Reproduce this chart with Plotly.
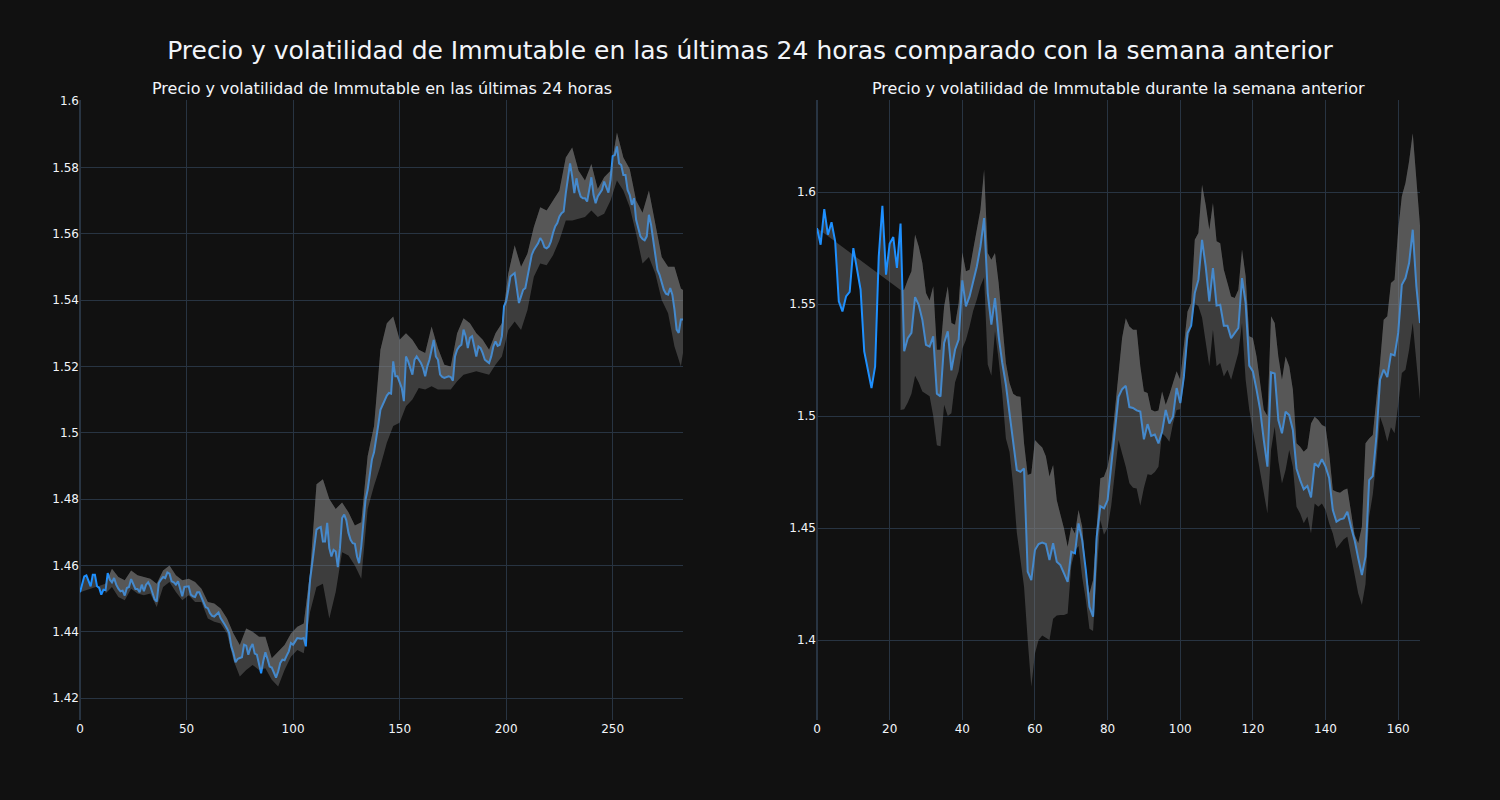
import plotly.graph_objects as go
from plotly.subplots import make_subplots

# ultimas 24 horas (5 min)
price_24h = [
    1.4519, 1.4540, 1.4567, 1.4570, 1.4555, 1.4537, 1.4572, 1.4572, 1.4537, 1.4532,
    1.4512, 1.4527, 1.4525, 1.4577, 1.4557, 1.4549, 1.4562, 1.4542, 1.4530, 1.4522,
    1.4524, 1.4509, 1.4532, 1.4535, 1.4559, 1.4545, 1.4529, 1.4529, 1.4519, 1.4542,
    1.4522, 1.4542, 1.4549, 1.4537, 1.4515, 1.4498, 1.4491, 1.4547, 1.4557, 1.4565,
    1.4562, 1.4579, 1.4575, 1.4552, 1.4549, 1.4542, 1.4552, 1.4532, 1.4507, 1.4535,
    1.4536, 1.4537, 1.4512, 1.4507, 1.4505, 1.4519, 1.4519, 1.4502, 1.4488, 1.4474,
    1.4471, 1.4456, 1.4448, 1.4446, 1.4452, 1.4458, 1.4441, 1.4432, 1.4421, 1.4410,
    1.4396, 1.4356, 1.4336, 1.4308, 1.4318, 1.4321, 1.4323, 1.4361, 1.4358, 1.4331,
    1.4351, 1.4363, 1.4334, 1.4331, 1.4306, 1.4275, 1.4311, 1.4338, 1.4318, 1.4295,
    1.4292, 1.4277, 1.4262, 1.4280, 1.4306, 1.4316, 1.4314, 1.4328, 1.4341, 1.4366,
    1.4361, 1.4371, 1.4381, 1.4380, 1.4379, 1.4381, 1.4356, 1.4476, 1.4557, 1.4607,
    1.4667, 1.4708, 1.4713, 1.4716, 1.4672, 1.4672, 1.4728, 1.4652, 1.4627, 1.4647,
    1.4642, 1.4595, 1.4652, 1.4743, 1.4753, 1.4736, 1.4698, 1.4677, 1.4667, 1.4665,
    1.4627, 1.4607, 1.4657, 1.4738, 1.4798, 1.4828, 1.4878, 1.4919, 1.4941, 1.4979,
    1.5024, 1.5069, 1.5085, 1.5095, 1.5112, 1.5120, 1.5118, 1.5215, 1.5170, 1.5170,
    1.5150, 1.5135, 1.5095, 1.5230, 1.5215, 1.5195, 1.5175, 1.5220, 1.5230, 1.5220,
    1.5210, 1.5195, 1.5170, 1.5200, 1.5220, 1.5250, 1.5280, 1.5230, 1.5220, 1.5175,
    1.5168, 1.5165, 1.5167, 1.5170, 1.5168, 1.5157, 1.5230, 1.5250, 1.5260, 1.5265,
    1.5311, 1.5291, 1.5255, 1.5286, 1.5291, 1.5260, 1.5230, 1.5260, 1.5255, 1.5240,
    1.5220, 1.5215, 1.5210, 1.5230, 1.5260, 1.5275, 1.5262, 1.5265, 1.5291, 1.5381,
    1.5396, 1.5431, 1.5471, 1.5476, 1.5481, 1.5436, 1.5391, 1.5411, 1.5431, 1.5436,
    1.5471, 1.5511, 1.5536, 1.5551, 1.5561, 1.5571, 1.5587, 1.5577, 1.5559, 1.5556,
    1.5561, 1.5577, 1.5602, 1.5622, 1.5632, 1.5652, 1.5662, 1.5667, 1.5722, 1.5767,
    1.5812, 1.5772, 1.5722, 1.5767, 1.5732, 1.5712, 1.5707, 1.5707, 1.5697, 1.5732,
    1.5770, 1.5717, 1.5692, 1.5712, 1.5722, 1.5732, 1.5757, 1.5737, 1.5724, 1.5762,
    1.5834, 1.5837, 1.5863, 1.5812, 1.5807, 1.5777, 1.5777, 1.5732, 1.5717, 1.5687,
    1.5707, 1.5642, 1.5612, 1.5592, 1.5584, 1.5580, 1.5592, 1.5657, 1.5627, 1.5582,
    1.5521, 1.5491, 1.5476, 1.5456, 1.5431, 1.5419, 1.5416, 1.5436, 1.5416, 1.5371,
    1.5311, 1.5301, 1.5341, 1.5341,
]

band_x_24h = [
    12, 15, 18, 21, 24, 27, 30, 33, 36, 39, 42, 45, 48, 51, 54, 57, 60, 63, 66, 69,
    72, 75, 78, 81, 84, 87, 90, 93, 96, 99, 102, 105, 108, 111, 114, 117, 120, 123,
    126, 129, 132, 135, 138, 141, 144, 147, 150, 153, 156, 159, 162, 165, 168, 171,
    174, 177, 180, 183, 186, 189, 192, 195, 198, 201, 204, 207, 210, 213, 216, 219,
    222, 225, 228, 231, 234, 237, 240, 243, 246, 249, 252, 255, 258, 261, 264, 267,
    270, 273, 276, 279, 282, 283,
]
upper_24h = [
    1.4545, 1.4590, 1.4565, 1.4555, 1.4585, 1.4570, 1.4565, 1.4560, 1.4545, 1.4585,
    1.4600, 1.4570, 1.4555, 1.4560, 1.4550, 1.4530, 1.4490, 1.4485, 1.4470, 1.4440,
    1.4395, 1.4360, 1.4410, 1.4400, 1.4385, 1.4385, 1.4320, 1.4340, 1.4360, 1.4395,
    1.4415, 1.4425, 1.4580, 1.4845, 1.4860, 1.4800, 1.4770, 1.4790, 1.4760, 1.4720,
    1.4730, 1.4930, 1.5020, 1.5250, 1.5330, 1.5350, 1.5280, 1.5300, 1.5280, 1.5250,
    1.5240, 1.5320, 1.5255, 1.5205, 1.5200, 1.5300, 1.5345, 1.5330, 1.5300, 1.5280,
    1.5250, 1.5300, 1.5330, 1.5480, 1.5565, 1.5500, 1.5540, 1.5620, 1.5680, 1.5670,
    1.5700, 1.5730, 1.5830, 1.5860, 1.5790, 1.5760, 1.5810, 1.5735, 1.5770, 1.5790,
    1.5905, 1.5830, 1.5795, 1.5700, 1.5663, 1.5730, 1.5630, 1.5530, 1.5500, 1.5500,
    1.5435, 1.5430,
]
lower_24h = [
    1.4515, 1.4535, 1.4505, 1.4495, 1.4530, 1.4515, 1.4510, 1.4515, 1.4475, 1.4535,
    1.4550, 1.4520, 1.4495, 1.4510, 1.4490, 1.4490, 1.4440, 1.4430, 1.4425, 1.4395,
    1.4315, 1.4265, 1.4285, 1.4300, 1.4285, 1.4290, 1.4255, 1.4235, 1.4285, 1.4325,
    1.4345, 1.4335, 1.4460, 1.4535, 1.4545, 1.4440, 1.4520, 1.4640, 1.4630, 1.4600,
    1.4560, 1.4770, 1.4840, 1.4900, 1.4970, 1.5020, 1.5030, 1.5080, 1.5100, 1.5135,
    1.5130, 1.5140, 1.5130, 1.5130, 1.5130, 1.5155, 1.5175, 1.5180, 1.5185, 1.5180,
    1.5175, 1.5205, 1.5230, 1.5310, 1.5335, 1.5310, 1.5370, 1.5470, 1.5510, 1.5505,
    1.5535, 1.5580, 1.5640, 1.5640, 1.5645, 1.5650, 1.5670, 1.5650, 1.5660, 1.5700,
    1.5760, 1.5730, 1.5680, 1.5600, 1.5510, 1.5530, 1.5480, 1.5400, 1.5360, 1.5260,
    1.5200, 1.5240,
]

# semana anterior (horas)
price_7d = [
    1.5839, 1.5765, 1.5924, 1.5810, 1.5865, 1.5780, 1.5512, 1.5467, 1.5534, 1.5554,
    1.5750, 1.5653, 1.5564, 1.5289, 1.5207, 1.5125, 1.5222, 1.5713, 1.5939, 1.5631,
    1.5769, 1.5799, 1.5661, 1.5859, 1.5289, 1.5348, 1.5371, 1.5531, 1.5497, 1.5430,
    1.5318, 1.5310, 1.5356, 1.5100, 1.5088, 1.5326, 1.5378, 1.5204, 1.5296, 1.5341,
    1.5606, 1.5490, 1.5534, 1.5601, 1.5668, 1.5757, 1.5884, 1.5549, 1.5408, 1.5527,
    1.5356, 1.5237, 1.5140, 1.5012, 1.4893, 1.4759, 1.4751, 1.4766, 1.4305, 1.4268,
    1.4402, 1.4429, 1.4435, 1.4429, 1.4357, 1.4432, 1.4350, 1.4335, 1.4298, 1.4260,
    1.4394, 1.4387, 1.4521, 1.4446, 1.4312, 1.4149, 1.4104, 1.4461, 1.4598, 1.4588,
    1.4625, 1.4774, 1.4938, 1.5086, 1.5120, 1.5135, 1.5040, 1.5036, 1.5025, 1.5020,
    1.4896, 1.4964, 1.4911, 1.4917, 1.4878, 1.4930, 1.5027, 1.4967, 1.4997, 1.5125,
    1.5058, 1.5177, 1.5371, 1.5403, 1.5549, 1.5609, 1.5787, 1.5668, 1.5512, 1.5660,
    1.5493, 1.5497, 1.5403, 1.5403, 1.5348, 1.5371, 1.5393, 1.5616, 1.5504, 1.5225,
    1.5199, 1.5118, 1.5028, 1.4893, 1.4774, 1.5195, 1.5190, 1.4982, 1.4923, 1.5019,
    1.5004, 1.4938, 1.4766, 1.4714, 1.4673, 1.4688, 1.4637, 1.4789, 1.4774, 1.4807,
    1.4774, 1.4722, 1.4580, 1.4528, 1.4539, 1.4543, 1.4573, 1.4506, 1.4446, 1.4365,
    1.4290, 1.4372, 1.4714, 1.4732, 1.4908, 1.5162, 1.5207, 1.5174, 1.5277, 1.5271,
    1.5371, 1.5586, 1.5616, 1.5683, 1.5832, 1.5579, 1.5415,
]

band_start_7d = 23
upper_7d = [
    1.5563, 1.5564, 1.5609, 1.5646, 1.5810, 1.5757, 1.5683, 1.5549, 1.5516, 1.5579,
    1.5296, 1.5296, 1.5490, 1.5579, 1.5415, 1.5408, 1.5504, 1.5731, 1.5646, 1.5653,
    1.5743, 1.5832, 1.5921, 1.6100, 1.5728, 1.5698, 1.5728, 1.5594, 1.5415, 1.5237,
    1.5147, 1.5100, 1.5088, 1.5086, 1.4878, 1.4737, 1.4744, 1.4893, 1.4875, 1.4860,
    1.4820, 1.4730, 1.4781, 1.4625, 1.4560, 1.4498, 1.4417, 1.4506, 1.4476, 1.4580,
    1.4506, 1.4312, 1.4208, 1.4268, 1.4506, 1.4722, 1.4729, 1.4774, 1.4863, 1.5027,
    1.5160, 1.5350, 1.5437, 1.5400, 1.5385, 1.5385, 1.5222, 1.5110, 1.5103, 1.5028,
    1.5020, 1.5025, 1.5110, 1.5050, 1.5095, 1.5150, 1.5200, 1.5162, 1.5326, 1.5467,
    1.5504, 1.5787, 1.5817, 1.6033, 1.5943, 1.5832, 1.5951, 1.5780, 1.5772, 1.5653,
    1.5594, 1.5534, 1.5527, 1.5564, 1.5743, 1.5624, 1.5356, 1.5348, 1.5266, 1.5147,
    1.5028, 1.5000, 1.5445, 1.5415, 1.5266, 1.5162, 1.5266, 1.5222, 1.5118, 1.4878,
    1.4863, 1.4841, 1.4856, 1.4967, 1.4997, 1.4982, 1.4960, 1.4952, 1.4833, 1.4670,
    1.4662, 1.4658, 1.4670, 1.4677, 1.4580, 1.4469, 1.4432, 1.4506, 1.4878, 1.4900,
    1.4915, 1.5071, 1.5237, 1.5430, 1.5445, 1.5594, 1.5609, 1.5832, 1.5981, 1.6040,
    1.6137, 1.6263, 1.6050, 1.5850,
]
lower_7d = [
    1.5027, 1.5030, 1.5060, 1.5100, 1.5180, 1.5150, 1.5110, 1.5100, 1.5088, 1.5000,
    1.4870, 1.4865, 1.5050, 1.5000, 1.5012, 1.5150, 1.5200, 1.5300, 1.5340, 1.5400,
    1.5470, 1.5520, 1.5580, 1.5620, 1.5230, 1.5180, 1.5380, 1.5250, 1.5100, 1.4900,
    1.4840, 1.4690, 1.4480, 1.4360, 1.4238, 1.4000, 1.3792, 1.3940, 1.4000, 1.4020,
    1.4010, 1.4000, 1.4095, 1.4110, 1.4112, 1.4112, 1.4119, 1.4330, 1.4400, 1.4420,
    1.4280, 1.4180, 1.4050, 1.4040, 1.4300, 1.4536, 1.4470, 1.4500, 1.4600, 1.4760,
    1.4893, 1.4833, 1.4774, 1.4700, 1.4680, 1.4677, 1.4600, 1.4680, 1.4740, 1.4737,
    1.4750, 1.4774, 1.4923, 1.4908, 1.4885, 1.4967, 1.5027, 1.5030, 1.5150, 1.5330,
    1.5400, 1.5504, 1.5490, 1.5440, 1.5326, 1.5222, 1.5385, 1.5222, 1.5237, 1.5177,
    1.5207, 1.5162, 1.5222, 1.5281, 1.5415, 1.5162, 1.5028, 1.4938, 1.4833, 1.4744,
    1.4655, 1.4565, 1.4850, 1.4952, 1.4800, 1.4699, 1.4759, 1.4848, 1.4774, 1.4595,
    1.4565, 1.4521, 1.4551, 1.4476, 1.4610, 1.4595, 1.4610, 1.4580, 1.4520, 1.4476,
    1.4409, 1.4432, 1.4450, 1.4461, 1.4372, 1.4283, 1.4208, 1.4156, 1.4250, 1.4550,
    1.4650, 1.4800, 1.4997, 1.4950, 1.4885, 1.4950, 1.4923, 1.5050, 1.5192, 1.5207,
    1.5296, 1.5415, 1.5250, 1.5070,
]

titles = ("Precio y volatilidad de Immutable en las últimas 24 horas",
          "Precio y volatilidad de Immutable durante la semana anterior")

fig = make_subplots(rows=1, cols=2, subplot_titles=titles)

band_fill = "rgba(128,128,128,0.4)"
blue = "#1e90ff"

x_24h = list(range(len(price_24h)))
fig.add_trace(go.Scatter(x=x_24h, y=price_24h, mode="lines", line=dict(color=blue, width=2)), row=1, col=1)
fig.add_trace(go.Scatter(x=band_x_24h, y=upper_24h, mode="lines", line=dict(width=0),
                         fill="tonexty", fillcolor=band_fill), row=1, col=1)
fig.add_trace(go.Scatter(x=band_x_24h, y=lower_24h, mode="lines", line=dict(width=0),
                         fill="tonexty", fillcolor=band_fill), row=1, col=1)

x_7d = list(range(len(price_7d)))
band_x_7d = list(range(band_start_7d, band_start_7d + len(upper_7d)))
fig.add_trace(go.Scatter(x=x_7d, y=price_7d, mode="lines", line=dict(color=blue, width=2)), row=1, col=2)
fig.add_trace(go.Scatter(x=band_x_7d, y=upper_7d, mode="lines", line=dict(width=0),
                         fill="tonexty", fillcolor=band_fill), row=1, col=2)
fig.add_trace(go.Scatter(x=band_x_7d, y=lower_7d, mode="lines", line=dict(width=0),
                         fill="tonexty", fillcolor=band_fill), row=1, col=2)

fig.update_yaxes(range=[1.4134, 1.6003], row=1, col=1)
fig.update_yaxes(range=[1.3643, 1.6411], row=1, col=2)

fig.update_layout(
    template="plotly_dark",
    width=1500, height=800,
    showlegend=False,
    font=dict(family="DejaVu Sans"),
    title=dict(text="Precio y volatilidad de Immutable en las últimas 24 horas comparado con la semana anterior",
               x=0.5, y=0.9375, yanchor="middle", font=dict(size=25)),
)

# quitar el margen blanco de la pagina
fig.write_html("out.html", config={"displayModeBar": False},
               post_script="document.body.style.margin='0';document.body.style.background='#111111';")
